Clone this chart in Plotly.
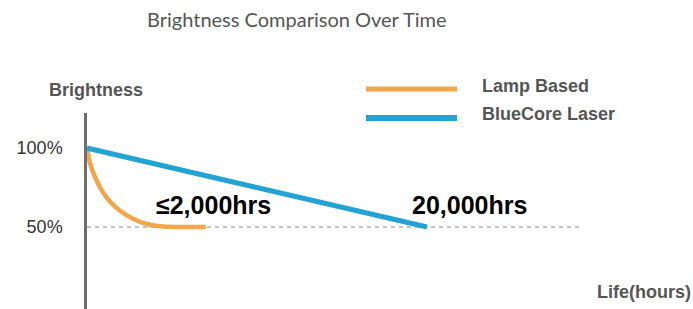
import plotly.graph_objects as go

# Schematic data (x in relative time units, y in % brightness)
lamp_x = [0, 0.5, 1.3, 2.4, 3.8, 5.45, 7.65, 9.85, 12.6, 15.4, 19.6]
lamp_y = [100, 90.3, 81.8, 73.4, 66.0, 60.3, 55.1, 51.9, 50.3, 50, 50]
laser_x = [0, 56.1]
laser_y = [100, 50]
ref_x = [0, 81.4]
ref_y = [50, 50]
tick_vals = [50, 100]
tick_text = ["50%", "100%"]
series_names = ["Lamp Based", "BlueCore Laser"]
label_lamp = "≤2,000hrs"
label_laser = "20,000hrs"

ORANGE = "#F3A54A"
BLUE = "#22A3D4"
GREY = "#555555"

W, H = 693, 309
L, T = 87, 113
PW, PH = W - L, H - T


def px(x):
    return (x - L) / PW


def py(y):
    return (H - y) / PH


fig = go.Figure()
fig.add_trace(go.Scatter(x=ref_x, y=ref_y, mode="lines",
                         line=dict(color="#8a8a8a", width=1, dash="4px,4px"),
                         showlegend=False, hoverinfo="skip"))
fig.add_trace(go.Scatter(x=lamp_x, y=lamp_y, mode="lines", name=series_names[0],
                         line=dict(color=ORANGE, width=4.5, shape="spline", smoothing=0.8),
                         showlegend=False))
fig.add_trace(go.Scatter(x=laser_x, y=laser_y, mode="lines", name=series_names[1],
                         line=dict(color=BLUE, width=5),
                         showlegend=False))


def pa(text, x, y, xa, size, color=GREY, family="Liberation Sans"):
    return dict(text=text, xref="paper", yref="paper", x=px(x), y=py(y),
                xanchor=xa, yanchor="middle", showarrow=False, borderpad=0,
                font=dict(family=family, size=size, color=color))


annos = [
    pa("Brightness Comparison Over Time", 297, 19, "center", 20, family="Lato"),
    pa("<b>Brightness</b>", 96, 90, "center", 18),
    pa("<b>" + series_names[0] + "</b>", 481, 86, "left", 18),
    pa("<b>" + series_names[1] + "</b>", 481, 114, "left", 18),
    pa("<b>Life(hours)</b>", 692, 292, "right", 18),
    dict(text="<b>" + label_lamp + "</b>", xref="x", yref="y",
         x=20.9, y=63.9, xanchor="center", yanchor="middle", showarrow=False,
         font=dict(family="Liberation Sans", size=25, color="#000000")),
    dict(text="<b>" + label_laser + "</b>", xref="x", yref="y",
         x=63.1, y=63.9, xanchor="center", yanchor="middle", showarrow=False,
         font=dict(family="Liberation Sans", size=25, color="#000000")),
]

shapes = [
    dict(type="line", xref="paper", yref="paper", x0=px(366), x1=px(457),
         y0=py(89), y1=py(89), line=dict(color=ORANGE, width=5)),
    dict(type="line", xref="paper", yref="paper", x0=px(366), x1=px(457),
         y0=py(118), y1=py(118), line=dict(color=BLUE, width=6)),
]

fig.update_layout(
    width=W, height=H,
    margin=dict(l=L, r=0, t=T, b=0, pad=0),
    paper_bgcolor="white", plot_bgcolor="white",
    annotations=annos, shapes=shapes,
    xaxis=dict(range=[0, 100], visible=False, fixedrange=True),
    yaxis=dict(range=[-1.9, 122.2], showline=True, linecolor="#6e6e6e", linewidth=2.5,
               tickvals=tick_vals, ticktext=tick_text, ticks="",
               ticklabelstandoff=18, showgrid=False, zeroline=False,
               fixedrange=True,
               tickfont=dict(family="Liberation Sans", size=18, color="#333333")),
)

fig.write_html(
    "out.html",
    config={"displayModeBar": False},
    post_script="document.body.style.margin='0';document.body.style.overflow='hidden';",
)
